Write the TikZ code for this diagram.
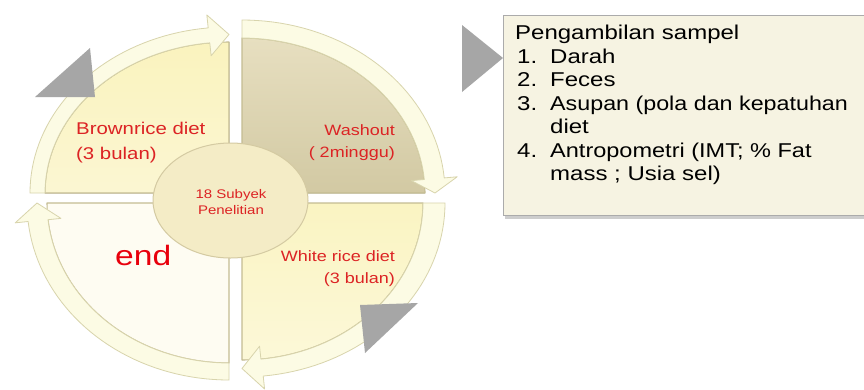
\documentclass[tikz,border=0pt]{standalone}
\usepackage{fontspec}
\usetikzlibrary{shapes.geometric}
\setmainfont{Liberation Sans}[FakeStretch=1.2]
\definecolor{bandfill}{HTML}{FCFBE4}
\definecolor{bandline}{HTML}{D8D4AC}
\definecolor{pieline}{HTML}{C4BC92}
\definecolor{tlA}{HTML}{FAF3BE}
\definecolor{tlB}{HTML}{FBF6D2}
\definecolor{trA}{HTML}{E7DFC0}
\definecolor{trB}{HTML}{D2C9A3}
\definecolor{brA}{HTML}{FAF4C2}
\definecolor{brB}{HTML}{FCF8D8}
\definecolor{blA}{HTML}{FEFCF2}
\definecolor{ellfill}{HTML}{F4ECC6}
\definecolor{ellline}{HTML}{D4CAA2}
\definecolor{boxfill}{HTML}{F6F3E2}
\definecolor{boxline}{HTML}{ABABAB}
\definecolor{trigray}{HTML}{A6A6A6}
\definecolor{lblred}{HTML}{DC2324}
\definecolor{endred}{HTML}{E8000C}
\tikzset{
  bandstyle/.style={fill=bandfill, draw=bandline, line width=0.8pt, line join=round},
  piestyle/.style={draw=pieline, line width=1.1pt, line join=round},
  lbl/.style={text=lblred, font=\fontsize{15}{18}\selectfont, inner sep=0pt},
  lblbig/.style={text=lblred, font=\fontsize{17}{20}\selectfont, inner sep=0pt},
  boxtxt/.style={text=black, font=\fontsize{20}{24}\selectfont, inner sep=0pt, anchor=base west},
  tri/.style={fill=trigray, draw=none}
}
% band: #1 cx, #2 cy, #3 a0, #4 a1 (tip), #5 head start, #6 rix, #7 riy, #8 rox, #9 roy
\newcommand\myband[9]{%
  \filldraw[bandstyle]
    plot[domain=#3:#5, samples=40, variable=\t] ({#1+#8*cos(\t)},{#2+#9*sin(\t)})
    -- ({#1+(#8+13)*cos(#5)},{#2+(#9+13)*sin(#5)})
    -- ({#1+(#6+#8)/2*cos(#4)},{#2+(#7+#9)/2*sin(#4)})
    -- ({#1+(#6-13)*cos(#5)},{#2+(#7-13)*sin(#5)})
    -- plot[domain=#5:#3, samples=40, variable=\t] ({#1+#6*cos(\t)},{#2+#7*sin(\t)})
    -- cycle;}
% pie: #1 cx, #2 cy, #3 a0, #4 a1, #5 rx, #6 ry, #7 style
\newcommand\mypie[7]{%
  \filldraw[piestyle,#7] (#1,#2)
    -- plot[domain=#3:#4, samples=40, variable=\t] ({#1+#5*cos(\t)},{#2+#6*sin(\t)})
    -- cycle;}
\begin{document}
\begin{tikzpicture}[x=1pt,y=-1pt]
\useasboundingbox (0,0) rectangle (864,389);
\fill[white] (0,0) rectangle (864,389);
% quadrants
\mypie{229}{193}{180}{270}{184}{151}{top color=tlA, bottom color=tlB}
\mypie{242}{193}{270}{360}{183}{155}{top color=trA, bottom color=trB}
\mypie{242}{203}{0}{90}{181}{157}{top color=brA, bottom color=brB}
\mypie{229}{203}{90}{180}{182}{160}{fill=blA}
% arrow bands
\myband{229}{193}{180}{270}{264}{184}{151}{199}{166}
\myband{242}{193}{270}{360}{355}{183}{155}{203}{173}
\myband{242}{203}{0}{90}{84}{181}{157}{203}{174}
\myband{229}{203}{90}{180}{174}{182}{160}{202}{177}
% gray triangles
\fill[tri] (35,97) -- (90,48) -- (95,97) -- cycle;
\fill[tri] (360,305) -- (418,303) -- (365,353) -- cycle;
\fill[tri] (462,25) -- (503,58) -- (462,92) -- cycle;
% centre ellipse
\node[ellipse, draw=ellline, fill=ellfill, line width=1pt,
      minimum width=155pt, minimum height=115pt, inner sep=0pt] (center) at (230.5,200.5) {};
\node[text=lblred, font=\fontsize{12.5}{16}\selectfont, align=center, anchor=base, inner sep=0pt] (c1) at (231,198) {18 Subyek};
\node[text=lblred, font=\fontsize{12.5}{16}\selectfont, align=center, anchor=base, inner sep=0pt] (c2) at (231,214) {Penelitian};
% quadrant labels
\node[lblbig, anchor=base west] (brown1) at (76,134) {Brownrice diet};
\node[lblbig, anchor=base west] (brown2) at (76,159) {(3 bulan)};
\node[lbl, anchor=base east] (wash1) at (395,135.5) {Washout};
\node[lbl, anchor=base east] (wash2) at (395,157.5) {( 2minggu)};
\node[lbl, anchor=base east] (white1) at (395,261) {White rice diet};
\node[lbl, anchor=base east] (white2) at (395,283) {(3 bulan)};
\node[text=endred, font=\fontsize{28}{32}\selectfont, anchor=base west, inner sep=0pt] (endlbl) at (115,265) {end};
% sample box
\fill[boxline!60] (505,18) rectangle (872,219);
\filldraw[fill=boxfill, draw=boxline, line width=1pt] (503,15) rectangle (870,215);
\node[boxtxt] (h) at (515,39) {Pengambilan sampel};
\node[boxtxt] (n1) at (517,63) {1.};
\node[boxtxt] (t1) at (550,63) {Darah};
\node[boxtxt] (n2) at (517,86.5) {2.};
\node[boxtxt] (t2) at (550,86.5) {Feces};
\node[boxtxt] (n3) at (517,110) {3.};
\node[boxtxt] (t3) at (550,110) {\scalebox{0.97}[1]{Asupan (pola dan kepatuhan}};
\node[boxtxt] (t3b) at (550,133.5) {diet};
\node[boxtxt] (n4) at (517,157) {4.};
\node[boxtxt] (t4) at (550,157) {\scalebox{0.98}[1]{Antropometri (IMT; \% Fat}};
\node[boxtxt] (t4b) at (550,180.5) {mass ; Usia sel)};
\end{tikzpicture}
\end{document}
